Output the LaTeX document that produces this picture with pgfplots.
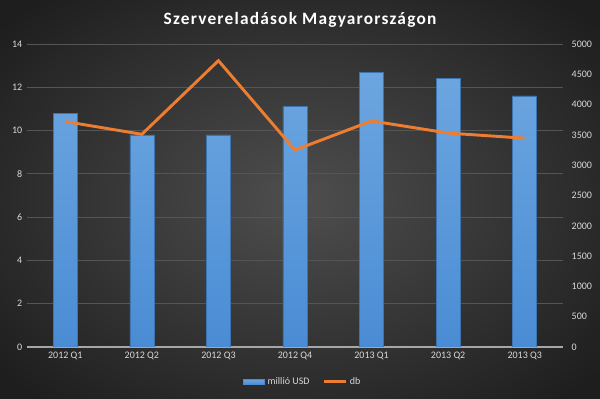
\documentclass[border=0pt]{standalone}
\usepackage{pgfplots}
\pgfplotsset{compat=1.18}
\usepackage{fontspec}
\setmainfont{Carlito}
\definecolor{bgin}{HTML}{4E4E4E}
\definecolor{bgout}{HTML}{1E1E1E}
\definecolor{tickc}{HTML}{D9D9D9}
\definecolor{gridc}{HTML}{555555}
\definecolor{barTop}{HTML}{6CA6E0}
\definecolor{barBot}{HTML}{4A8CD4}
\definecolor{barEdge}{HTML}{3D74B0}
\definecolor{lineC}{HTML}{ED7D31}
\definecolor{axisC}{HTML}{A6A6A6}
\begin{document}
\begin{tikzpicture}
\shade[inner color=bgin, outer color=bgout] (-70pt,-50pt) rectangle (520pt,349.25pt);
\begin{axis}[
  at={(20.25pt,39pt)}, anchor=south west, scale only axis,
  width=402pt, height=227.25pt,
  xmin=-0.5, xmax=6.5, ymin=0, ymax=14,
  ytick={0,2,...,14},
  xtick={0,...,6},
  xticklabels={2012 Q1,2012 Q2,2012 Q3,2012 Q4,2013 Q1,2013 Q2,2013 Q3},
  axis x line*=bottom, axis y line*=left,
  y axis line style={draw=none},
  x axis line style={axisC, line width=0.9pt},
  ymajorgrids, grid style={gridc, line width=0.6pt},
  major tick length=0pt,
  tick label style={font=\fontsize{7.5}{9}\selectfont, text=tickc},
  /pgf/number format/assume math mode=true,
  legend style={at={(0.515,-0.115)}, anchor=center, draw=none, fill=none,
    legend columns=2, font=\fontsize{7.5}{9}\selectfont, text=tickc,
    /tikz/every even column/.append style={column sep=8pt}},
]
\addplot[ybar, bar width=18pt, draw=barEdge, line width=0.4pt, top color=barTop, bottom color=barBot,
  legend image code/.code={\fill[barBot] (0pt,-2pt) rectangle (16pt,2pt);}]
  coordinates {(0,10.8) (1,9.8) (2,9.8) (3,11.1) (4,12.7) (5,12.4) (6,11.6)};
\addlegendentry{millió USD}
\addlegendimage{legend image code/.code={\draw[lineC, line width=2.2pt] (0pt,0pt) -- (16pt,0pt);}}
\addlegendentry{db}
\end{axis}
\begin{axis}[
  at={(20.25pt,39pt)}, anchor=south west, scale only axis,
  width=402pt, height=227.25pt,
  xmin=-0.5, xmax=6.5, ymin=0, ymax=5000,
  ytick={0,500,...,5000},
  scaled y ticks=false,
  axis x line=none, axis y line*=right,
  y axis line style={draw=none},
  major tick length=0pt,
  tick label style={font=\fontsize{7.5}{9}\selectfont, text=tickc},
  yticklabel style={xshift=3pt},
  /pgf/number format/assume math mode=true,
  /pgf/number format/set thousands separator={},
]
\addplot[lineC, line width=2.2pt, mark=none]
  coordinates {(0,3720) (1,3510) (2,4725) (3,3250) (4,3730) (5,3530) (6,3445)};
\end{axis}
\node[text=white, font=\fontsize{13}{16}\selectfont\bfseries\addfontfeature{LetterSpace=7}] at (225pt,284pt) {Szervereladások Magyarországon};
\pgfresetboundingbox
\useasboundingbox (0,0) rectangle (450pt,299.25pt);
\end{tikzpicture}
\end{document}
